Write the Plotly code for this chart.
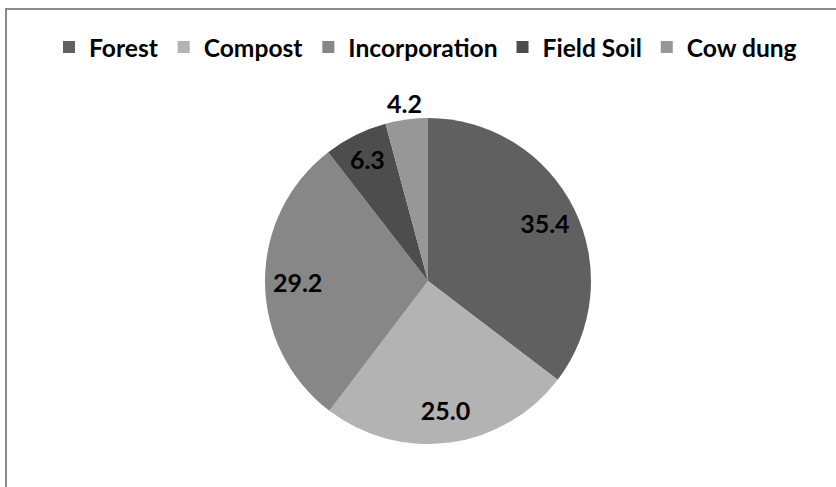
import math
import plotly.graph_objects as go

categories = ["Forest", "Compost", "Incorporation", "Field Soil", "Cow dung"]
values = [35.4, 25.0, 29.2, 6.3, 4.2]
labels_text = ["35.4", "25.0", "29.2", "6.3", "4.2"]
colors = ["#606060", "#b3b3b3", "#878787", "#4d4d4d", "#979797"]
inside = [True, True, True, True, False]

W, H = 836, 487
cx, cy, r = 428, 281, 163
dom = dict(x=[(cx - r) / W, (cx + r) / W], y=[(H - cy - r) / H, (H - cy + r) / H])
FONT = "Lato"
lblfont = dict(family=FONT, size=25, color="black", weight="bold")

# main pie (slices)
fig = go.Figure(go.Pie(
    labels=categories,
    values=values,
    textinfo="none",
    sort=False,
    direction="clockwise",
    rotation=0,
    marker=dict(colors=colors, line=dict(width=0)),
    domain=dom,
    showlegend=True,
    hoverinfo="label+value",
))

# transparent ring overlay used only to place inside data labels at ~0.8 radius
fig.add_trace(go.Pie(
    labels=categories,
    values=values,
    text=[t if ins else "" for t, ins in zip(labels_text, inside)],
    textinfo="text",
    textposition="inside",
    insidetextorientation="horizontal",
    hole=0.6,
    sort=False,
    direction="clockwise",
    rotation=0,
    marker=dict(colors=["rgba(0,0,0,0)"] * len(values), line=dict(width=0)),
    textfont=lblfont,
    insidetextfont=lblfont,
    domain=dom,
    showlegend=False,
    hoverinfo="skip",
))

# outside label(s): placed just beyond the rim at the slice's mid-angle
total = sum(values)
annotations = []
cum = 0.0
for v, t, ins in zip(values, labels_text, inside):
    mid = (cum + v / 2) / total * 2 * math.pi
    cum += v
    if ins:
        continue
    d = 1.1 * r
    px = cx + d * math.sin(mid)
    py = cy - d * math.cos(mid)
    annotations.append(dict(x=px / W, y=(H - py) / H, xref="paper", yref="paper",
                            text=t, showarrow=False, font=lblfont,
                            xanchor="center", yanchor="middle"))

fig.update_layout(
    width=W, height=H,
    margin=dict(l=0, r=0, t=0, b=0),
    paper_bgcolor="white",
    plot_bgcolor="white",
    legend=dict(orientation="h", x=425.5 / W, xanchor="center", y=(H - 47) / H, yanchor="middle",
                font=dict(family=FONT, size=24.6, color="black", weight="bold"),
                traceorder="normal", itemclick=False, itemdoubleclick=False),
    annotations=annotations,
    shapes=[dict(type="rect", xref="paper", yref="paper",
                 x0=6 / W, x1=1.02, y0=-0.02, y1=(H - 9) / H,
                 line=dict(color="#8a8a8a", width=2), fillcolor="rgba(0,0,0,0)", layer="below")],
)

fig.write_html("out.html", config={"displayModeBar": False},
               post_script="document.body.style.margin='0';document.body.style.padding='0';")
